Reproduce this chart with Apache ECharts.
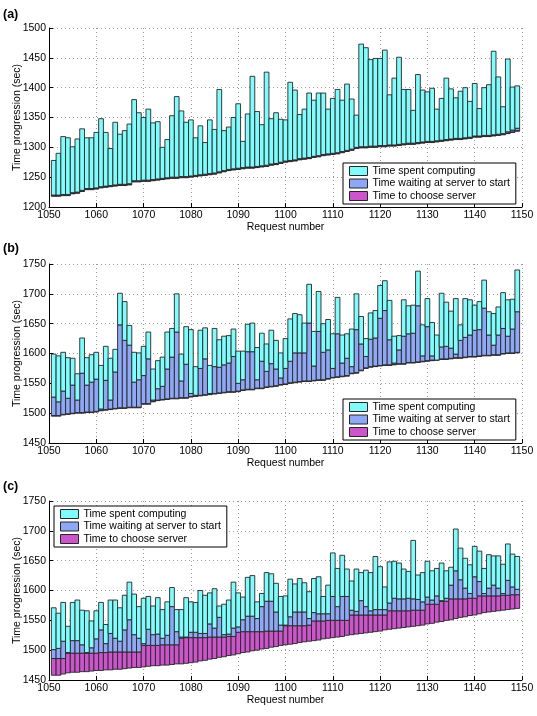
<!DOCTYPE html>
<html>
<head>
<meta charset="utf-8">
<script src="https://cdn.jsdelivr.net/npm/echarts@6/dist/echarts.min.js"></script>
<style>
  html, body { margin: 0; background: #fff; }
  #chart { width: 537px; height: 716px; }
</style>
</head>
<body>
<div id="chart"></div>
<script>
// request numbers on the x axis
const requests = [
  1051,1052,1053,1054,1055,1056,1057,1058,1059,1060,
  1061,1062,1063,1064,1065,1066,1067,1068,1069,1070,
  1071,1072,1073,1074,1075,1076,1077,1078,1079,1080,
  1081,1082,1083,1084,1085,1086,1087,1088,1089,1090,
  1091,1092,1093,1094,1095,1096,1097,1098,1099,1100,
  1101,1102,1103,1104,1105,1106,1107,1108,1109,1110,
  1111,1112,1113,1114,1115,1116,1117,1118,1119,1120,
  1121,1122,1123,1124,1125,1126,1127,1128,1129,1130,
  1131,1132,1133,1134,1135,1136,1137,1138,1139,1140,
  1141,1142,1143,1144,1145,1146,1147,1148,1149
]

// (a) times in sec: submitted, server chosen, started, finished
const aStart = [
  1218,1218,1219,1219,1222,1223,1226,1229,1229,1230,
  1232,1233,1234,1235,1236,1236,1237,1242,1242,1243,
  1243,1244,1245,1246,1247,1248,1248,1249,1249,1250,
  1251,1252,1253,1254,1255,1257,1259,1261,1262,1263,
  1264,1265,1265,1266,1267,1268,1270,1271,1273,1275,
  1276,1277,1279,1280,1281,1283,1284,1286,1287,1288,
  1289,1291,1293,1295,1298,1299,1299,1300,1300,1301,
  1301,1302,1302,1303,1304,1305,1305,1306,1307,1308,
  1308,1309,1310,1311,1312,1313,1313,1314,1315,1317,
  1317,1318,1318,1319,1320,1321,1323,1325,1327
]
const aChosen = [
  1219,1219,1220,1220,1223,1224,1227,1230,1230,1231,
  1233,1234,1235,1236,1237,1237,1238,1243,1243,1244,
  1244,1245,1246,1247,1248,1249,1249,1250,1250,1251,
  1252,1253,1254,1255,1256,1258,1260,1262,1263,1264,
  1265,1266,1266,1267,1268,1269,1271,1272,1274,1276,
  1277,1278,1280,1281,1282,1284,1285,1287,1288,1289,
  1290,1292,1294,1296,1299,1300,1300,1301,1301,1302,
  1302,1303,1303,1304,1305,1306,1306,1307,1308,1309,
  1309,1310,1311,1312,1313,1314,1314,1315,1316,1318,
  1318,1319,1319,1320,1321,1322,1324,1326,1328
]
const aStarted = [
  1220,1220,1221,1221,1224,1225,1228,1231,1231,1232,
  1234,1235,1236,1237,1238,1238,1239,1244,1244,1245,
  1245,1246,1247,1248,1249,1250,1250,1251,1251,1252,
  1253,1254,1255,1256,1257,1259,1261,1263,1264,1265,
  1266,1267,1267,1268,1269,1270,1272,1273,1275,1277,
  1278,1279,1281,1282,1283,1285,1286,1288,1289,1290,
  1291,1293,1295,1297,1300,1301,1301,1302,1302,1303,
  1303,1304,1304,1305,1306,1307,1307,1308,1309,1310,
  1310,1311,1312,1313,1314,1315,1315,1316,1317,1319,
  1319,1320,1320,1321,1322,1323,1326,1329,1332
]
const aDone = [
  1278,1290,1318,1316,1301,1314,1331,1316,1316,1325,
  1348,1325,1298,1342,1322,1328,1339,1380,1358,1350,
  1364,1341,1343,1300,1313,1353,1385,1361,1342,1346,
  1316,1336,1308,1346,1330,1397,1328,1334,1350,1373,
  1310,1356,1419,1360,1338,1426,1348,1358,1347,1346,
  1409,1396,1355,1364,1391,1379,1391,1391,1364,1382,
  1397,1379,1406,1381,1354,1473,1467,1447,1449,1449,
  1463,1388,1416,1451,1397,1397,1362,1422,1396,1393,
  1399,1364,1382,1416,1398,1383,1394,1400,1377,1407,
  1365,1400,1405,1461,1418,1368,1448,1401,1403
]

// (b)
const bStart = [
  1495,1495,1497,1498,1499,1500,1500,1501,1501,1502,
  1504,1505,1506,1507,1508,1508,1509,1509,1509,1515,
  1515,1519,1521,1522,1523,1524,1524,1525,1525,1527,
  1528,1529,1530,1531,1532,1533,1534,1535,1535,1536,
  1538,1539,1539,1541,1541,1543,1544,1545,1547,1548,
  1550,1551,1552,1553,1553,1554,1555,1555,1557,1559,
  1560,1561,1562,1566,1567,1571,1575,1577,1578,1579,
  1580,1580,1581,1582,1582,1584,1584,1585,1586,1587,
  1588,1589,1590,1590,1591,1592,1592,1593,1594,1594,
  1595,1596,1596,1597,1597,1599,1600,1600,1601
]
const bChosen = [
  1496,1496,1498,1499,1500,1501,1501,1502,1502,1503,
  1505,1506,1507,1508,1509,1509,1510,1510,1510,1516,
  1516,1520,1522,1523,1524,1525,1525,1526,1526,1528,
  1529,1530,1531,1532,1533,1534,1535,1536,1536,1537,
  1539,1540,1540,1542,1542,1544,1545,1546,1548,1549,
  1551,1552,1553,1554,1554,1555,1556,1556,1558,1560,
  1561,1562,1563,1567,1568,1572,1576,1578,1579,1580,
  1581,1581,1582,1583,1583,1585,1585,1586,1587,1588,
  1589,1590,1591,1591,1592,1593,1593,1594,1595,1595,
  1596,1597,1597,1598,1598,1600,1601,1601,1602
]
const bStarted = [
  1527,1519,1537,1525,1547,1522,1567,1547,1552,1557,
  1507,1555,1522,1569,1648,1622,1614,1552,1556,1563,
  1591,1522,1541,1545,1574,1594,1636,1554,1582,1533,
  1530,1575,1591,1533,1578,1577,1581,1584,1595,1550,
  1556,1603,1603,1556,1587,1570,1583,1574,1559,1575,
  1587,1601,1601,1601,1651,1579,1637,1602,1606,1575,
  1633,1584,1592,1578,1640,1616,1595,1624,1626,1659,
  1672,1623,1584,1606,1629,1633,1634,1680,1596,1645,
  1596,1589,1611,1612,1609,1599,1622,1627,1631,1639,
  1640,1676,1631,1614,1631,1642,1629,1641,1670
]
const bDone = [
  1599,1596,1602,1593,1592,1566,1626,1593,1598,1602,
  1580,1612,1592,1607,1701,1687,1647,1602,1601,1612,
  1636,1574,1588,1594,1636,1642,1700,1599,1645,1640,
  1578,1639,1643,1580,1642,1623,1629,1630,1641,1604,
  1604,1649,1651,1610,1634,1616,1639,1622,1601,1625,
  1658,1667,1665,1651,1716,1637,1704,1650,1657,1633,
  1694,1631,1633,1641,1700,1662,1625,1668,1672,1714,
  1722,1689,1629,1630,1690,1680,1681,1738,1648,1692,
  1652,1631,1701,1686,1671,1692,1648,1692,1690,1681,
  1687,1723,1670,1667,1678,1702,1690,1691,1740
]

// (c)
const cStart = [
  1458,1458,1460,1462,1463,1463,1464,1464,1465,1466,
  1466,1467,1467,1468,1468,1469,1470,1471,1471,1472,
  1473,1474,1474,1475,1475,1476,1477,1477,1478,1479,
  1480,1482,1483,1485,1486,1488,1489,1491,1492,1494,
  1496,1497,1499,1500,1502,1503,1505,1506,1508,1509,
  1510,1511,1513,1514,1515,1516,1517,1519,1520,1521,
  1522,1523,1525,1526,1527,1528,1529,1530,1531,1532,
  1534,1535,1536,1537,1538,1539,1540,1541,1542,1544,
  1545,1547,1548,1550,1551,1553,1555,1556,1558,1559,
  1561,1563,1564,1565,1566,1567,1568,1569,1570
]
const cChosen = [
  1486,1486,1486,1495,1495,1495,1495,1495,1495,1495,
  1496,1496,1497,1497,1497,1497,1497,1497,1497,1508,
  1508,1508,1508,1509,1509,1509,1509,1520,1521,1521,
  1521,1521,1521,1522,1522,1522,1522,1523,1523,1530,
  1531,1531,1531,1531,1531,1532,1532,1532,1532,1541,
  1541,1541,1541,1541,1542,1549,1549,1549,1550,1550,
  1550,1550,1550,1559,1559,1559,1559,1559,1559,1559,
  1559,1566,1566,1566,1566,1566,1567,1567,1567,1577,
  1577,1577,1582,1582,1586,1586,1586,1586,1587,1587,
  1591,1591,1591,1591,1591,1592,1592,1593,1593
]
const cStarted = [
  1501,1503,1515,1496,1516,1516,1509,1496,1504,1519,
  1534,1511,1528,1520,1515,1534,1551,1526,1520,1511,
  1535,1526,1527,1520,1525,1573,1531,1522,1522,1530,
  1530,1528,1528,1544,1537,1555,1526,1527,1537,1539,
  1551,1557,1557,1553,1573,1582,1582,1564,1542,1542,
  1556,1564,1564,1564,1553,1563,1561,1561,1561,1590,
  1573,1590,1590,1567,1565,1583,1573,1566,1568,1568,
  1568,1579,1587,1586,1586,1587,1586,1585,1581,1589,
  1584,1591,1583,1587,1609,1633,1618,1604,1595,1623,
  1615,1595,1604,1609,1604,1595,1617,1606,1602
]
const cDone = [
  1571,1562,1580,1540,1580,1584,1567,1566,1549,1566,
  1580,1543,1584,1584,1571,1592,1614,1594,1573,1587,
  1590,1574,1588,1568,1581,1605,1568,1568,1588,1581,
  1580,1600,1592,1596,1603,1574,1577,1584,1614,1596,
  1589,1622,1625,1581,1595,1630,1628,1612,1590,1591,
  1619,1611,1620,1613,1598,1620,1623,1590,1609,1663,
  1637,1659,1636,1616,1636,1630,1634,1630,1657,1640,
  1606,1648,1649,1646,1636,1632,1684,1626,1630,1649,
  1633,1637,1646,1633,1639,1703,1671,1654,1643,1674,
  1666,1637,1660,1658,1658,1644,1678,1661,1657
]

const FONT = '"Liberation Sans", Arial, Helvetica, sans-serif'
const NAME_COMPUTE = 'Time spent computing'
const NAME_WAIT = 'Time waiting at server to start'
const NAME_CHOOSE = 'Time to choose server'
const COLOR_COMPUTE = '#80fcfc'
const COLOR_WAIT = '#8fa8f5'
const COLOR_CHOOSE = '#cc55cc'

const panels = [
  { tag: '(a)', tagTop: 8, top: 28, yMin: 1200, yMax: 1500, legend: { left: 343, top: 163 },
    t: [aStart, aChosen, aStarted, aDone] },
  { tag: '(b)', tagTop: 242, top: 264, yMin: 1450, yMax: 1750, legend: { left: 343, top: 399 },
    t: [bStart, bChosen, bStarted, bDone] },
  { tag: '(c)', tagTop: 480, top: 501, yMin: 1450, yMax: 1750, legend: { left: 54, top: 506 },
    t: [cStart, cChosen, cStarted, cDone] }
]

// one rectangle per request, from lo to hi, 1 request wide
function renderBar(params, api) {
  const x = api.value(0)
  const p0 = api.coord([x - 0.5, api.value(2)])
  const p1 = api.coord([x + 0.5, api.value(1)])
  return {
    type: 'rect',
    shape: { x: p0[0], y: p0[1], width: p1[0] - p0[0], height: p1[1] - p0[1] },
    style: { fill: api.visual('color'), stroke: '#262626', lineWidth: 0.9 }
  }
}

function segment(lo, hi) {
  return requests.map((r, i) => [r, lo[i], hi[i]])
}

// plain numbers, no thousands separator
const plain = v => String(v)

const grid = [], xAxis = [], yAxis = [], series = [], legend = [], title = []

panels.forEach((p, i) => {
  grid.push({ left: 49, top: p.top, width: 473, height: 179, outerBoundsMode: 'none', containLabel: false })
  title.push({
    text: p.tag, left: 3, top: p.tagTop, padding: 0,
    textStyle: { fontFamily: FONT, fontSize: 12.5, fontWeight: 'bold', color: '#000' }
  })
  xAxis.push({
    type: 'value', gridIndex: i, min: 1050, max: 1150, interval: 10,
    name: 'Request number', nameLocation: 'middle', nameGap: 15, nameMoveOverlap: false,
    nameTextStyle: { fontFamily: FONT, fontSize: 10.5, color: '#000' },
    axisLine: { show: true, lineStyle: { color: '#000', width: 1 } },
    axisTick: { show: true, inside: true, length: 4, lineStyle: { color: '#000' } },
    axisLabel: { fontFamily: FONT, fontSize: 10.5, color: '#000', margin: 3, formatter: plain },
    splitLine: { show: true, lineStyle: { color: '#9a9a9a', type: [1, 3], width: 1 } }
  })
  yAxis.push({
    type: 'value', gridIndex: i, min: p.yMin, max: p.yMax, interval: 50,
    name: 'Time progression (sec)', nameLocation: 'middle', nameGap: 26, nameMoveOverlap: false,
    nameTextStyle: { fontFamily: FONT, fontSize: 10.5, color: '#000' },
    axisLine: { show: true, lineStyle: { color: '#000', width: 1 } },
    axisTick: { show: true, inside: true, length: 4, lineStyle: { color: '#000' } },
    axisLabel: { fontFamily: FONT, fontSize: 10.5, color: '#000', margin: 3, formatter: plain },
    splitLine: { show: true, lineStyle: { color: '#9a9a9a', type: [1, 3], width: 1 } }
  })

  const parts = [
    [NAME_CHOOSE, COLOR_CHOOSE, p.t[0], p.t[1]],
    [NAME_WAIT, COLOR_WAIT, p.t[1], p.t[2]],
    [NAME_COMPUTE, COLOR_COMPUTE, p.t[2], p.t[3]]
  ]
  parts.forEach(([name, color, lo, hi]) => {
    series.push({
      type: 'custom', name: name, xAxisIndex: i, yAxisIndex: i,
      renderItem: renderBar,
      itemStyle: { color: color },
      encode: { x: 0, y: [1, 2] },
      data: segment(lo, hi)
    })
  })

  legend.push({
    left: p.legend.left, top: p.legend.top, orient: 'vertical',
    data: [NAME_COMPUTE, NAME_WAIT, NAME_CHOOSE],
    icon: 'rect', itemWidth: 18, itemHeight: 9, itemGap: 0.5,
    padding: [2, 6, 2, 6],
    backgroundColor: '#fff', borderColor: '#000', borderWidth: 1, borderRadius: 0,
    itemStyle: { borderColor: '#262626', borderWidth: 1 },
    textStyle: { fontFamily: FONT, fontSize: 10.5, lineHeight: 12, color: '#000' },
    selectedMode: false
  })
})

const chart = echarts.init(document.getElementById('chart'))
chart.setOption({
  animation: false,
  backgroundColor: '#fff',
  title: title,
  legend: legend,
  grid: grid,
  xAxis: xAxis,
  yAxis: yAxis,
  series: series
})
</script>
</body>
</html>
